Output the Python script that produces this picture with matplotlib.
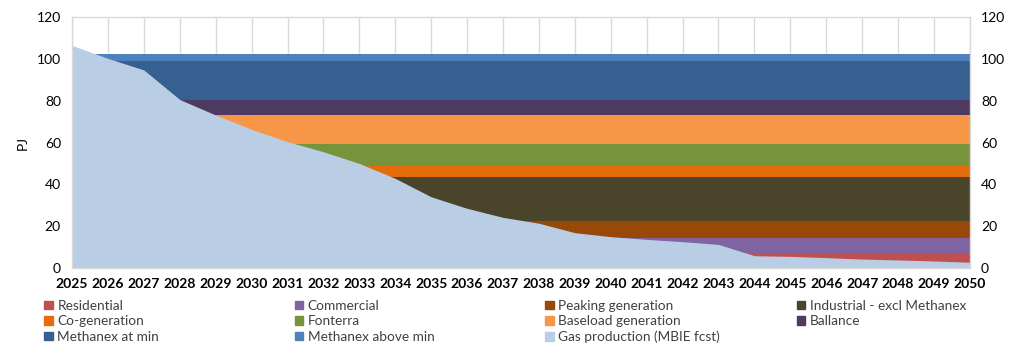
import matplotlib.pyplot as plt
from matplotlib.patches import Patch

plt.rcParams['font.family'] = ['Lato', 'DejaVu Sans']

# years on the x axis
years = list(range(2025, 2051))

# demand categories (stacked, bottom to top), PJ per year
categories = ['Residential', 'Commercial', 'Peaking generation', 'Industrial - excl Methanex',
              'Co-generation', 'Fonterra', 'Baseload generation', 'Ballance',
              'Methanex at min', 'Methanex above min']
demand = [7.0, 7.5, 8.0, 21.2, 5.1, 10.5, 13.6, 7.2, 18.6, 3.7]
colors = ['#C0504D', '#8064A2', '#984807', '#4A452A', '#E46C0A',
          '#77933C', '#F79646', '#4E3A60', '#35608F', '#4F81BD']

# gas production forecast (MBIE)
gas = [106.3, 100.1, 94.6, 80.5, 73.1, 66.3, 60.4, 55.6, 50.0, 42.9,
       34.1, 28.6, 24.3, 21.5, 17.0, 15.1, 13.8, 12.7, 11.4, 6.0,
       5.7, 5.1, 4.4, 4.0, 3.5, 2.9]
gas_label = 'Gas production (MBIE fcst)'
gas_color = '#B9CDE5'

fig = plt.figure(figsize=(10.1, 3.44), dpi=100)
ax = fig.add_axes([0.0713, 0.220, 0.889, 0.7315])

layers = [[v] * len(years) for v in demand]
ax.stackplot(years, *layers, colors=colors, linewidth=0, zorder=1)
ax.fill_between(years, 0, gas, color=gas_color, linewidth=0, zorder=2)

ax.set_xlim(2025, 2050)
ax.set_ylim(0, 120)
ax.set_xticks(years)
ax.set_xticklabels([str(y) for y in years], fontweight='bold', fontsize=10)
ax.set_yticks(range(0, 121, 20))
ax.tick_params(axis='both', length=0, labelsize=10, colors='#000000')
ax.tick_params(axis='y', pad=8)
ax.tick_params(axis='x', pad=7)
ax.set_ylabel('PJ', fontsize=10, labelpad=6)

ax.grid(axis='x', color='#D9D9D9', linewidth=1)
ax.set_axisbelow(True)
for s in ax.spines.values():
    s.set_color('#D9D9D9')
    s.set_linewidth(1)

ax2 = ax.twinx()
ax2.set_ylim(0, 120)
ax2.set_yticks(range(0, 121, 20))
ax2.tick_params(axis='y', length=0, labelsize=10, pad=8)
for s in ax2.spines.values():
    s.set_visible(False)

# legend: four columns placed by hand
handles = [Patch(color=c) for c in colors] + [Patch(color=gas_color)]
labels = categories + [gas_label]
columns = [[0, 4, 8], [1, 5, 9], [2, 6, 10], [3, 7]]
col_x = [0.044, 0.292, 0.540, 0.789]
for idx, x in zip(columns, col_x):
    fig.legend([handles[i] for i in idx], [labels[i] for i in idx],
               loc='upper left', bbox_to_anchor=(x, 0.128), ncol=1,
               frameon=False, fontsize=9.8, handlelength=0.6, handleheight=0.6,
               handletextpad=0.35, labelspacing=0.25, borderpad=0,
               borderaxespad=0, labelcolor='#404040')

fig.savefig('out.png', dpi=100)
